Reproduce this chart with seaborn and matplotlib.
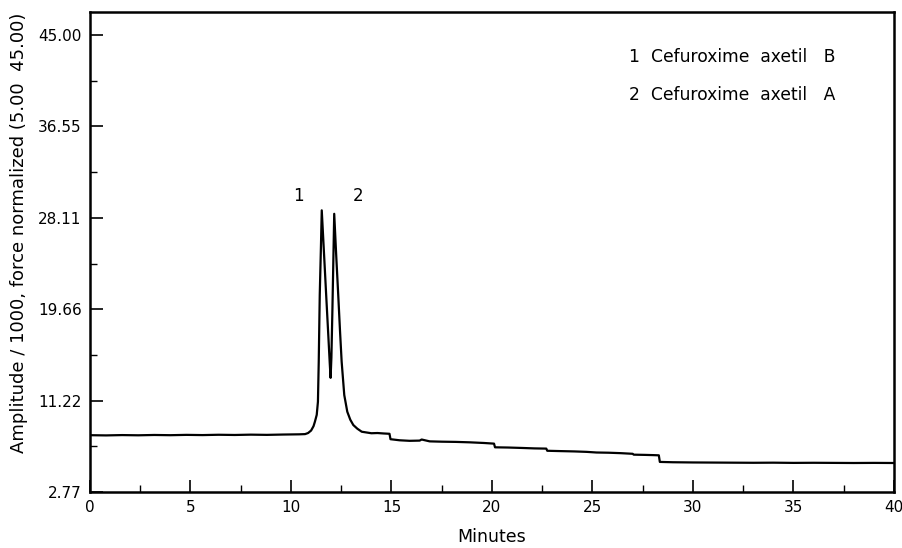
import matplotlib
matplotlib.use("Agg")
import matplotlib.pyplot as plt
import seaborn as sns
import pandas as pd
from matplotlib.ticker import FixedLocator

# ---- data ----
minutes = [0.0, 0.8, 1.6, 2.4, 3.2, 4.0, 4.8, 5.6, 6.4, 7.2, 8.0, 8.8, 9.6, 10.4,
           10.7, 10.85, 11.0, 11.12, 11.19, 11.28, 11.34, 11.38, 11.43, 11.49, 11.53,
           11.64, 11.75, 11.86, 11.93, 11.97, 12.01, 12.06, 12.10, 12.15, 12.25,
           12.35, 12.44, 12.52, 12.65, 12.80, 12.95, 13.10, 13.30, 13.52, 14.0,
           14.3, 14.6, 14.9, 14.95, 15.4, 15.9, 16.4, 16.5, 16.9, 17.5, 18.2,
           18.9, 19.6, 20.1, 20.15, 20.8, 21.5, 22.1, 22.7, 22.75, 23.4, 24.1,
           24.7, 25.2, 25.8, 26.4, 27.0, 27.05, 27.6, 28.0, 28.3, 28.35, 29.0,
           30.0, 31.0, 32.0, 33.0, 34.0, 35.0, 36.0, 37.0, 38.0, 39.0, 40.0]
amplitude = [8.02, 8.00, 8.03, 8.01, 8.04, 8.02, 8.05, 8.03, 8.06, 8.04, 8.07, 8.05, 8.08, 8.10,
             8.12, 8.22, 8.45, 8.85, 9.27, 9.9, 11.11, 14.81, 20.97, 25.5, 28.8,
             24.9, 20.97, 17.1, 14.6, 13.32, 15.2, 19.6, 23.5, 28.48, 24.6,
             20.97, 17.6, 14.81, 11.73, 10.19, 9.45, 8.96, 8.62, 8.34, 8.2,
             8.22, 8.18, 8.15, 7.65, 7.55, 7.50, 7.52, 7.62, 7.45, 7.42, 7.40,
             7.36, 7.30, 7.24, 6.90, 6.88, 6.84, 6.80, 6.78, 6.58, 6.55, 6.52,
             6.48, 6.42, 6.40, 6.36, 6.30, 6.22, 6.20, 6.18, 6.16, 5.55, 5.52,
             5.50, 5.49, 5.48, 5.47, 5.48, 5.46, 5.47, 5.46, 5.45, 5.46, 5.45]

y_ticks = [2.77, 11.22, 19.66, 28.11, 36.55, 45.00]
y_ticklabels = ["2.77", "11.22", "19.66", "28.11", "36.55", "45.00"]
x_ticks = [0, 5, 10, 15, 20, 25, 30, 35, 40]
peak_labels = ["1", "2"]
peak_label_pos = [(10.35, 29.3), (13.35, 29.3)]
legend_lines = ["1  Cefuroxime  axetil   B", "2  Cefuroxime  axetil   A"]

df = pd.DataFrame({"Minutes": minutes, "Amplitude": amplitude})

sns.set_style("ticks")
plt.rcParams["font.family"] = ["DejaVu Sans"]

fig = plt.figure(figsize=(9.03, 5.48), dpi=100)
ax = fig.add_axes([90 / 903, 1 - 492 / 548, (894 - 90) / 903, (492 - 12) / 548])

sns.lineplot(data=df, x="Minutes", y="Amplitude", ax=ax, color="black",
             linewidth=1.6, estimator=None, sort=False)

ax.set_xlim(0, 40)
ax.set_ylim(2.77, 47.13)

ax.set_xticks(x_ticks)
ax.set_xticklabels([str(v) for v in x_ticks])
ax.xaxis.set_minor_locator(FixedLocator([2.5, 7.5, 12.5, 17.5, 22.5, 27.5, 32.5, 37.5]))
ax.set_yticks(y_ticks)
ax.set_yticklabels(y_ticklabels)
mids = [(a + b) / 2 for a, b in zip(y_ticks[:-1], y_ticks[1:])]
ax.yaxis.set_minor_locator(FixedLocator(mids))

ax.tick_params(axis="both", which="major", direction="in", length=9, width=1.2,
               labelsize=11, color="black", labelcolor="black", pad=6)
ax.tick_params(axis="both", which="minor", direction="in", length=5, width=1.0,
               color="black")

for s in ax.spines.values():
    s.set_linewidth(1.8)
    s.set_color("black")

ax.set_xlabel("Minutes", fontsize=12.5, color="black")
ax.xaxis.set_label_coords(0.5, -36 / 480)
ax.set_ylabel("Amplitude / 1000, force normalized (5.00  45.00)", fontsize=13, color="black")
ax.yaxis.set_label_coords(-62 / 804, 0.54)

for lab, (px, py) in zip(peak_labels, peak_label_pos):
    ax.text(px, py, lab, fontsize=12, ha="center", va="bottom", color="black")

ax.text(26.8, 42.96, legend_lines[0], fontsize=12.3, ha="left", va="center", color="black")
ax.text(26.8, 39.45, legend_lines[1], fontsize=12.3, ha="left", va="center", color="black")

fig.savefig("out.png", dpi=100)
